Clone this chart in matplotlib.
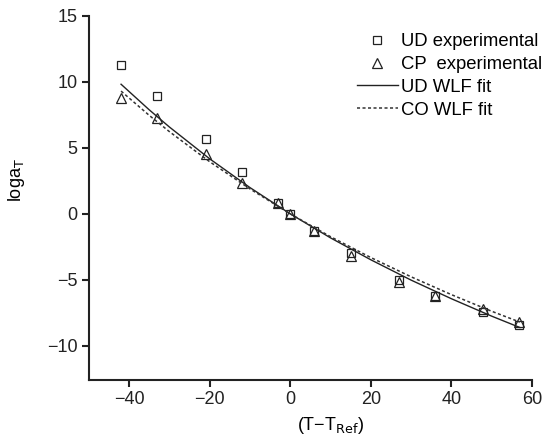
import matplotlib.pyplot as plt

plt.rcParams['font.family'] = ['Liberation Sans', 'DejaVu Sans']

# experimental shift factors
dT = [-42, -33, -21, -12, -3, 0, 6, 15, 27, 36, 47.8, 56.7]
ud_exp = [11.3, 8.95, 5.7, 3.2, 0.8, 0.0, -1.3, -3.0, -5.0, -6.2, -7.4, -8.4]
cp_exp = [8.75, 7.25, 4.5, 2.3, 0.8, 0.0, -1.3, -3.2, -5.2, -6.2, -7.2, -8.2]

# fit curves
fit_T = [-42, -35, -30, -20, -10, 0, 10, 20, 30, 40, 50, 57]
ud_fit = [9.82, 7.88, 6.58, 4.17, 1.99, 0.0, -1.82, -3.48, -5.02, -6.43, -7.75, -8.61]
co_fit = [9.30, 7.46, 6.23, 3.95, 1.89, 0.0, -1.73, -3.31, -4.77, -6.12, -7.38, -8.20]

fig = plt.figure(figsize=(5.45, 4.41), dpi=100)
ax = fig.add_axes([0.163, 0.138, 0.813, 0.826])

ax.plot(dT, ud_exp, 's', mfc='none', mec='#222222', ms=6, mew=0.9,
        label='UD experimental')
ax.plot(dT, cp_exp, '^', mfc='none', mec='#222222', ms=7.5, mew=0.9,
        label='CP  experimental')
ax.plot(fit_T, ud_fit, '-', color='#222222', lw=1.0, label='UD WLF fit')
ax.plot(fit_T, co_fit, linestyle=(0, (2, 1.6)), color='#333333', lw=1.1,
        label='CO WLF fit')

ax.set_xlim(-50, 60)
ax.set_ylim(-12.6, 15)
ax.set_xticks([-40, -20, 0, 20, 40, 60])
ax.set_yticks([-10, -5, 0, 5, 10, 15])
ax.set_xticklabels(['\u221240', '\u221220', '0', '20', '40', '60'])
ax.set_yticklabels(['\u221210', '\u22125', '0', '5', '10', '15'])

for s in ['top', 'right']:
    ax.spines[s].set_visible(False)
for s in ['left', 'bottom']:
    ax.spines[s].set_linewidth(1.5)
    ax.spines[s].set_color('#222222')
ax.tick_params(direction='out', length=5, width=1.5, colors='#222222',
               labelsize=13, pad=3)

ax.set_xlabel('(T\u2212T$_{\\mathrm{Ref}}$)', fontsize=13)
ax.set_ylabel('loga$_{\\mathrm{T}}$', fontsize=13)
ax.xaxis.set_label_coords(0.546, -0.095)
ax.yaxis.set_label_coords(-0.14, 0.55)

leg = ax.legend(loc='upper left', bbox_to_anchor=(357 / 545, 0.925),
                bbox_transform=fig.transFigure, frameon=False,
                fontsize=13.3, handlelength=2.2, handletextpad=0.2,
                labelspacing=0.32, borderpad=0, borderaxespad=0)

fig.savefig('out.png', dpi=100)
